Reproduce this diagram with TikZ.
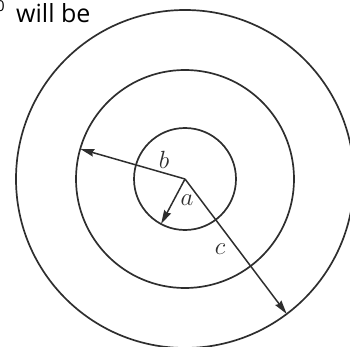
\documentclass[tikz,border=0pt]{standalone}
\usepackage{fontspec}
\setsansfont{Open Sans}
\usetikzlibrary{arrows.meta}
\definecolor{ink}{HTML}{2E2E2E}
\begin{document}
\begin{tikzpicture}[x=1pt,y=-1pt,
  ring/.style={circle,draw=ink,line width=1.7pt,inner sep=0pt,outer sep=0pt},
  radius arrow/.style={draw=ink,line width=1.5pt,-{Stealth[length=14pt,width=7.5pt,inset=1.5pt]}},
  lbl/.style={text=ink,inner sep=0pt,font=\fontsize{28}{30}\selectfont},
  toptext/.style={inner sep=0pt,font=\sffamily\fontsize{25}{28}\selectfont}]
\useasboundingbox (0,0) rectangle (350,347);
\coordinate (O) at (185,179);
\node[ring,minimum size=102pt] (inner) at (O) {};
\node[ring,minimum size=218pt] (mid) at (O) {};
\node[ring,minimum size=338pt] (outer) at (O) {};
\draw[radius arrow] (O) -- (mid.164);
\draw[radius arrow] (O) -- (inner.242);
\draw[radius arrow] (O) -- (outer.-53);
\node[lbl] (lb) at (164,160) {$b$};
\node[lbl] (la) at (187,200) {$a$};
\node[lbl] (lc) at (220,249) {$c$};
\node[toptext,anchor=base west] (tt) at (16,23) {will be};
\node[inner sep=0pt,anchor=north east,font=\sffamily\fontsize{15}{16}\selectfont] (sup) at (5,0) {0};
\end{tikzpicture}
\end{document}
